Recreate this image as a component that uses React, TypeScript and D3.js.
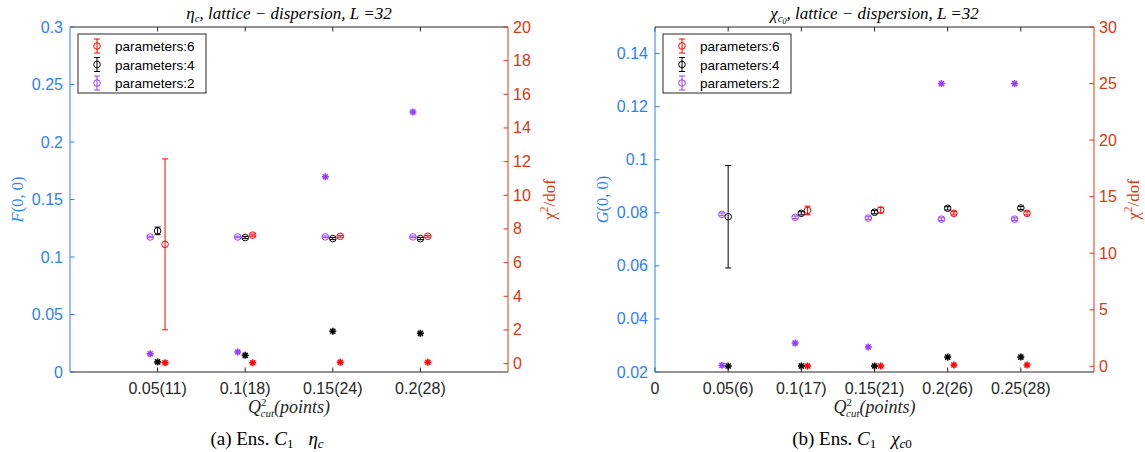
import React from "react";
import * as d3 from "d3";

// ---- data ----
const xLabelsA = ["0.05(11)", "0.1(18)", "0.15(24)", "0.2(28)"];
const fP6 = [0.111, 0.119, 0.118, 0.118];
const fP6Err = [0.0743, 0.0009, 0.0008, 0.0008];
const fP4 = [0.1227, 0.1169, 0.116, 0.116];
const fP4Err = [0.0033, 0.0009, 0.0009, 0.0009];
const fP2 = [0.1174, 0.1174, 0.1175, 0.1175];
const fP2Err = [0.0007, 0.0007, 0.0007, 0.0007];
const chiA6 = [0.05, 0.05, 0.08, 0.08];
const chiA4 = [0.1, 0.49, 1.92, 1.8];
const chiA2 = [0.58, 0.69, 11.1, 14.95];

const xLabelsB = ["0", "0.05(6)", "0.1(17)", "0.15(21)", "0.2(26)", "0.25(28)"];
const gP6 = [null, 0.0809, 0.081, 0.0798, 0.0798];
const gP6Err = [null, 0.0016, 0.0011, 0.0006, 0.0006];
const gP4 = [0.0785, 0.0798, 0.0802, 0.0817, 0.0818];
const gP4Err = [0.0193, 0.0006, 0.0006, 0.0006, 0.0006];
const gP2 = [0.0794, 0.0783, 0.078, 0.0776, 0.0776];
const gP2Err = [0.0005, 0.0005, 0.0005, 0.0005, 0.0005];
const chiB6 = [null, 0.03, 0.03, 0.12, 0.12];
const chiB4 = [0.03, 0.03, 0.03, 0.82, 0.82];
const chiB2 = [0.09, 2.06, 1.71, 25, 25];

const legendNames = ["parameters:6", "parameters:4", "parameters:2"];

const RED = "#ff0000";
const BLACK = "#000000";
const PURPLE = "#9a3cff";
const AXBLUE = "#2d7ff2";
const AXRED = "#d8380f";
const SANS = "'Liberation Sans', Arial, Helvetica, sans-serif";
const SERIF = "'Liberation Serif', 'DejaVu Serif', serif";

const Y0 = 27;
const Y1 = 372;
const OFF = 0.085;

function Star({ x, y, color }) {
  const s = 3.5;
  const d = s * 0.72;
  return (
    <g stroke={color} strokeWidth={1.6}>
      <line x1={x - s} y1={y} x2={x + s} y2={y} />
      <line x1={x} y1={y - s} x2={x} y2={y + s} />
      <line x1={x - d} y1={y - d} x2={x + d} y2={y + d} />
      <line x1={x - d} y1={y + d} x2={x + d} y2={y - d} />
    </g>
  );
}

function ErrPoint({ x, y, yLo, yHi, color }) {
  return (
    <g stroke={color} strokeWidth={1} fill="none">
      <line x1={x} y1={yLo} x2={x} y2={yHi} />
      <line x1={x - 3} y1={yLo} x2={x + 3} y2={yLo} />
      <line x1={x - 3} y1={yHi} x2={x + 3} y2={yHi} />
      <circle cx={x} cy={y} r={3.3} />
    </g>
  );
}

function Panel(props) {
  const { x0, x1, xMax, xTicks, xLabels, yLDomain, yLTicks, yRDomain, yRTicks,
    series, title, yLabel, caption, captionX, legendX, leftLabelX, rightLabelX } = props;
  const x = d3.scaleLinear().domain([0, xMax]).range([x0, x1]);
  const yL = d3.scaleLinear().domain(yLDomain).range([Y1, Y0]);
  const yR = d3.scaleLinear().domain(yRDomain).range([Y1, Y0]);
  const fmt = (v) => String(+v.toFixed(4));
  const cx = (x0 + x1) / 2;
  const cy = (Y0 + Y1) / 2;

  return (
    <g>
      {/* box top + bottom */}
      <line x1={x0} y1={Y0} x2={x1} y2={Y0} stroke="#262626" strokeWidth={1} />
      <line x1={x0} y1={Y1} x2={x1} y2={Y1} stroke="#262626" strokeWidth={1} />
      {xTicks.map((t, i) => (
        <g key={"xt" + i}>
          <line x1={x(t)} x2={x(t)} y1={Y1} y2={Y1 - 4.5} stroke="#262626" />
          <line x1={x(t)} x2={x(t)} y1={Y0} y2={Y0 + 4.5} stroke="#262626" />
          <text x={x(t)} y={394} textAnchor="middle" fontFamily={SANS} fontSize={16} fill="#262626">
            {xLabels[i]}
          </text>
        </g>
      ))}
      {/* left axis */}
      <line x1={x0} y1={Y0} x2={x0} y2={Y1} stroke={AXBLUE} strokeWidth={1} />
      {yLTicks.map((t) => (
        <g key={"yl" + t}>
          <line x1={x0} x2={x0 + 4.5} y1={yL(t)} y2={yL(t)} stroke={AXBLUE} />
          <text x={x0 - 7} y={yL(t) + 5.5} textAnchor="end" fontFamily={SANS} fontSize={16} fill={AXBLUE}>
            {fmt(t)}
          </text>
        </g>
      ))}
      {/* right axis */}
      <line x1={x1} y1={Y0} x2={x1} y2={Y1} stroke={AXRED} strokeWidth={1} />
      {yRTicks.map((t) => (
        <g key={"yr" + t}>
          <line x1={x1} x2={x1 - 4.5} y1={yR(t)} y2={yR(t)} stroke={AXRED} />
          <text x={x1 + 5} y={yR(t) + 5.5} textAnchor="start" fontFamily={SANS} fontSize={16} fill={AXRED}>
            {fmt(t)}
          </text>
        </g>
      ))}

      {/* F / G values with error bars */}
      {series.map((s, si) =>
        s.vals.map((v, i) =>
          v == null ? null : (
            <ErrPoint
              key={"e" + si + i}
              x={x(i + 1 + s.off)}
              y={yL(v)}
              yLo={yL(v - s.err[i])}
              yHi={yL(v + s.err[i])}
              color={s.color}
            />
          )
        )
      )}
      {/* chi2/dof stars */}
      {series.map((s, si) =>
        s.chi.map((v, i) =>
          v == null ? null : <Star key={"s" + si + i} x={x(i + 1 + s.off)} y={yR(v)} color={s.color} />
        )
      )}

      {/* legend */}
      <rect x={legendX} y={34} width={128} height={59} fill="#fff" stroke="#262626" strokeWidth={1} />
      {series.map((s, i) => {
        const ly = 46 + i * 18.5;
        const mx = legendX + 19;
        return (
          <g key={"lg" + i}>
            <ErrPoint x={mx} y={ly} yLo={ly + 7} yHi={ly - 7} color={s.color} />
            <text x={legendX + 37} y={ly + 5} fontFamily={SANS} fontSize={13.5} fill="#000">
              {legendNames[i]}
            </text>
          </g>
        );
      })}

      {/* title */}
      <text x={cx} y={19} textAnchor="middle" fontFamily={SERIF} fontSize={17} fontStyle="italic" fill="#000">
        {title}
      </text>

      {/* axis labels */}
      <text transform={`translate(${leftLabelX},${cy}) rotate(-90)`} textAnchor="middle"
        fontFamily={SERIF} fontSize={16.5} fill={AXBLUE}>
        <tspan fontStyle="italic">{yLabel}</tspan>(0, 0)
      </text>
      <text transform={`translate(${rightLabelX},${cy}) rotate(-90)`} textAnchor="middle"
        fontFamily={SERIF} fontSize={17} fill={AXRED}>
        χ<tspan dy={-7} fontSize={11.5}>2</tspan><tspan dy={7}>/dof</tspan>
      </text>
      <text x={cx} y={413} textAnchor="middle" fontFamily={SERIF} fontSize={18} fontStyle="italic" fill="#262626">
        Q<tspan dy={-7} fontSize={11} fontStyle="normal">2</tspan>
        <tspan dy={11} dx={-6} fontSize={11}>cut</tspan>
        <tspan dy={-4}>(points)</tspan>
      </text>

      {/* caption */}
      <text x={captionX} y={445} textAnchor="middle" fontFamily={SERIF} fontSize={19} fill="#000">
        {caption}
      </text>
    </g>
  );
}

export default function App() {
  const seriesA = [
    { vals: fP6, err: fP6Err, chi: chiA6, color: RED, off: OFF },
    { vals: fP4, err: fP4Err, chi: chiA4, color: BLACK, off: 0 },
    { vals: fP2, err: fP2Err, chi: chiA2, color: PURPLE, off: -OFF },
  ];
  const seriesB = [
    { vals: gP6, err: gP6Err, chi: chiB6, color: RED, off: OFF },
    { vals: gP4, err: gP4Err, chi: chiB4, color: BLACK, off: 0 },
    { vals: gP2, err: gP2Err, chi: chiB2, color: PURPLE, off: -OFF },
  ];

  return (
    <svg width={1145} height={452} style={{ position: "absolute", left: 0, top: 0, background: "#fff" }}>
      <Panel
        x0={70}
        x1={508}
        xMax={5}
        xTicks={[1, 2, 3, 4]}
        xLabels={xLabelsA}
        yLDomain={[0, 0.3]}
        yLTicks={d3.range(0, 0.3001, 0.05)}
        yRDomain={[-0.5, 20]}
        yRTicks={d3.range(0, 21, 2)}
        series={seriesA}
        legendX={78}
        leftLabelX={23}
        rightLabelX={555}
        captionX={267}
        yLabel="F"
        title={
          <>
            η<tspan dy={3} fontSize={11}>c</tspan>
            <tspan dy={-3}>, lattice − dispersion, L =32</tspan>
          </>
        }
        caption={
          <>
            (a) Ens. <tspan fontStyle="italic">C</tspan>
            <tspan dy={3} fontSize={13}>1</tspan>
            <tspan dy={-3} dx={15} fontStyle="italic">η</tspan>
            <tspan dy={3} fontSize={13} fontStyle="italic">c</tspan>
          </>
        }
      />
      <Panel
        x0={655}
        x1={1094}
        xMax={6}
        xTicks={[0, 1, 2, 3, 4, 5]}
        xLabels={xLabelsB}
        yLDomain={[0.02, 0.15]}
        yLTicks={d3.range(0.02, 0.1401, 0.02)}
        yRDomain={[-0.5, 30]}
        yRTicks={d3.range(0, 31, 5)}
        series={seriesB}
        legendX={663}
        leftLabelX={608}
        rightLabelX={1139}
        captionX={852}
        yLabel="G"
        title={
          <>
            χ<tspan dy={3} fontSize={11}>c</tspan>
            <tspan dy={2} fontSize={8}>0</tspan>
            <tspan dy={-5}>, lattice − dispersion, L =32</tspan>
          </>
        }
        caption={
          <>
            (b) Ens. <tspan fontStyle="italic">C</tspan>
            <tspan dy={3} fontSize={13}>1</tspan>
            <tspan dy={-3} dx={15} fontStyle="italic">χ</tspan>
            <tspan dy={3} fontSize={13} fontStyle="italic">c</tspan>
            <tspan fontSize={13}>0</tspan>
          </>
        }
      />
    </svg>
  );
}
